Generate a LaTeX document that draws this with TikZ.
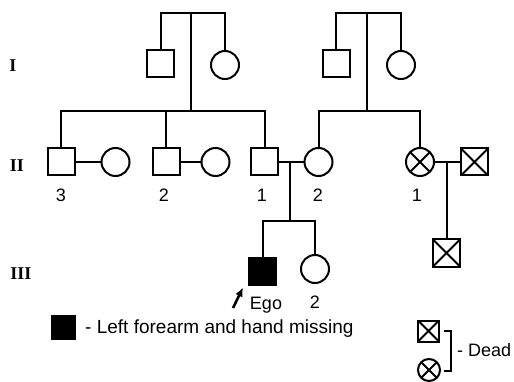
\documentclass[tikz,border=0pt]{standalone}
\usepackage{fontspec}
\setmainfont{Liberation Sans}
\newfontfamily\romanfont{Liberation Serif}
\usetikzlibrary{arrows,arrows.meta,positioning,calc}

\tikzset{
	person/.style={draw, line width=2pt, inner sep=0pt},
	male/.style={person, rectangle, minimum size=27pt},
	female/.style={person, circle, minimum size=28pt},
	dead/.style={path picture={\draw[line width=1.8pt] (path picture bounding box.north west) -- (path picture bounding box.south east) (path picture bounding box.north east) -- (path picture bounding box.south west);}},
	affected/.style={fill=black},
	num/.style={font=\fontsize{18}{20}\selectfont, inner sep=0pt},
	gen/.style={font=\fontsize{18}{20}\selectfont\romanfont\bfseries, inner sep=0pt},
	line/.style={line width=2pt}
}

\begin{document}
\begin{tikzpicture}[x=1pt, y=-1pt]
	\useasboundingbox (0,0) rectangle (514,382);
	% generations
	\node[gen] (gI) at (13,66) {I};
	\node[gen] (gII) at (17,166) {II};
	\node[gen] (gIII) at (21,274) {III};
	%
	\node[male] (I1) at (160.5,63.5) {};
	\node[female] (I2) at (225,65) {};
	\node[male] (I3) at (336,63.5) {};
	\node[female] (I4) at (401,65) {};
	\coordinate (m1) at (191,13);
	\coordinate (s1) at (191,111);
	\coordinate (m2) at (367,13);
	\coordinate (s2) at (367,111);
	%
	\node[male] (II3) at (61,162) {};
	\node[female] (II3w) at (115.5,162) {};
	\node[male] (II2) at (166,162) {};
	\node[female] (II2w) at (215.5,162) {};
	\node[male] (II1) at (264.5,162) {};
	\node[female] (II1w) at (318.5,162) {};
	\node[female, dead] (II4) at (420,162) {};
	\node[male, dead] (II5) at (474.5,162) {};
	\coordinate (d1) at (290,162);
	\coordinate (s3) at (290,221);
	\coordinate (d2) at (446.5,162);
	%
	\node[male, affected] (III1) at (262.5,271) {};
	\node[female] (III2) at (315,269) {};
	\node[male, dead] (III3) at (446.5,253) {};
	% numbers
	\node[num] (nII3) at (61,195) {3};
	\node[num] (nII2) at (164,195) {2};
	\node[num] (nII1) at (262,195) {1};
	\node[num] (nII1w) at (318,195) {2};
	\node[num] (nII4) at (417,195) {1};
	\node[num] (nIII2) at (315,302) {2};
	\node[num] (ego) at (266,305) {Ego};
	\coordinate (egoarr) at (233,308);
	% lines
	\draw[line] (I1.north) |- (m1) -| (I2.north);
	\draw[line] (m1) -- (s1);
	\draw[line] (I3.north) |- (m2) -| (I4.north);
	\draw[line] (m2) -- (s2);
	\draw[line] (II3.north) |- (II1.north |- s1) -- (II1.north);
	\draw[line] (II2.north) -- (II2.north |- s1);
	\draw[line] (II1w.north) |- (s2) -| (II4.north);
	\draw[line] (II3) -- (II3w);
	\draw[line] (II2) -- (II2w);
	\draw[line] (II1) -- (II1w);
	\draw[line] (II4) -- (II5);
	\draw[line] (d1) -- (s3);
	\draw[line] (III1.north) |- (s3) -| (III2.north);
	\draw[line] (d2) -- (III3.north);
	\draw[-{Latex[length=9pt,width=8pt]}, line width=2.6pt] (egoarr) -- ([shift={(-5,2)}]III1.south west);
	% legend
	\node[male, affected, minimum size=23pt] (lgaff) at (63,327) {};
	\node[num, anchor=west, font=\fontsize{19}{21}\selectfont] (lgafftext) at (85,329) {- Left forearm and hand missing};
	\node[male, dead, minimum size=21pt] (lgm) at (428.5,331) {};
	\node[female, dead, minimum size=22pt] (lgf) at (429,370) {};
	\draw[line] (444,331) -| (451,371) -- (444,371);
	\node[num, anchor=west] (lgdead) at (457,350) {- Dead};
\end{tikzpicture}
\end{document}
